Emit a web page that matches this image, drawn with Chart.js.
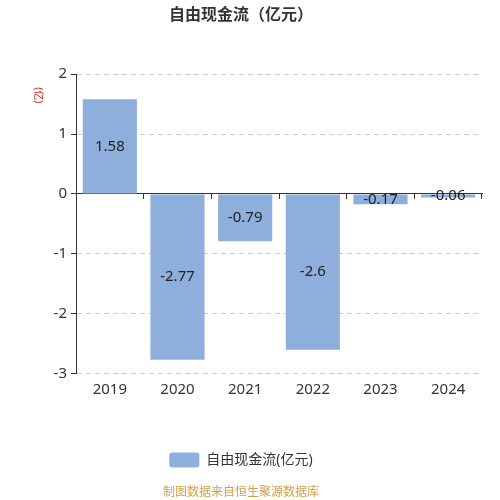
<!DOCTYPE html>
<html>
<head>
<meta charset="utf-8">
<script src="https://cdn.jsdelivr.net/npm/chart.js@4"></script>
<style>
  html, body { margin: 0; padding: 0; background: #fff; }
</style>
</head>
<body>
<canvas id="chart" width="500" height="500"></canvas>
<script>
var years = ['2019', '2020', '2021', '2022', '2023', '2024'];
var fcf = [1.58, -2.77, -0.79, -2.6, -0.17, -0.06];
var yTicks = [2, 1, 0, -1, -2, -3];

var FONT = '"Noto Sans", "Noto Sans CJK SC", sans-serif';

// value labels sit in the middle of each bar
var barLabels = {
  id: 'barLabels',
  afterDatasetsDraw: function(chart) {
    var ctx = chart.ctx;
    var meta = chart.getDatasetMeta(0);
    ctx.save();
    ctx.font = '15px ' + FONT;
    ctx.fillStyle = '#222';
    ctx.textAlign = 'center';
    ctx.textBaseline = 'middle';
    meta.data.forEach(function(bar, i) {
      var c = bar.getCenterPoint();
      ctx.fillText(String(fcf[i]), c.x, c.y);
    });
    ctx.restore();
  }
};

// small red unit text next to the y axis
var unitLabel = {
  id: 'unitLabel',
  afterDraw: function(chart) {
    var ctx = chart.ctx;
    var y = chart.scales.y;
    ctx.save();
    ctx.translate(38, y.getPixelForValue(1.65));
    ctx.rotate(Math.PI / 2);
    ctx.font = '10px ' + FONT;
    ctx.fillStyle = '#e02020';
    ctx.textAlign = 'center';
    ctx.textBaseline = 'middle';
    ctx.fillText('(亿)', 0, 0);
    ctx.restore();
  }
};

new Chart(document.getElementById('chart'), {
  type: 'bar',
  data: {
    labels: years,
    datasets: [{
      label: '自由现金流(亿元)',
      data: fcf,
      backgroundColor: '#8eaedc',
      barPercentage: 0.8,
      categoryPercentage: 1
    }]
  },
  options: {
    responsive: false,
    animation: false,
    layout: {padding: {left: 0, right: 18, top: 0, bottom: 0}},
    scales: {
      x: {
        type: 'category',
        offset: true,
        afterFit: function(scale) { scale.height = 69; },
        grid: {display: false, drawTicks: false},
        border: {display: false},
        ticks: {color: '#333', padding: 7, font: {size: 15, family: FONT}}
      },
      x2: {
        type: 'category',
        position: {y: 0},
        offset: true,
        labels: years,
        grid: {offset: true, drawOnChartArea: false, tickLength: 5, tickColor: '#333', color: '#333'},
        border: {color: '#333', width: 1},
        ticks: {display: false}
      },
      y: {
        min: -3,
        max: 2,
        afterBuildTicks: function(scale) {
          scale.ticks = yTicks.slice().reverse().map(function(v) { return {value: v}; });
        },
        afterFit: function(scale) { scale.width = 76; },
        grid: {color: '#cccccc', tickColor: '#333', tickLength: 5, tickBorderDash: []},
        border: {color: '#333', dash: [5, 4]},
        ticks: {color: '#333', padding: 4, font: {size: 15, family: FONT}}
      }
    },
    plugins: {
      title: {
        display: true,
        text: '自由现金流（亿元）',
        color: '#333',
        font: {size: 16, weight: 'bold', family: FONT},
        padding: {top: 6, bottom: 49}
      },
      subtitle: {
        display: true,
        position: 'bottom',
        text: '制图数据来自恒生聚源数据库',
        color: '#d4a04a',
        font: {size: 12, family: FONT},
        padding: {top: 8, bottom: 0}
      },
      legend: {
        position: 'bottom',
        labels: {
          color: '#333',
          boxWidth: 30,
          boxHeight: 15,
          useBorderRadius: true,
          borderRadius: 3,
          padding: 10,
          font: {size: 14, family: FONT}
        }
      },
      tooltip: {enabled: false}
    }
  },
  plugins: [barLabels, unitLabel]
});
</script>
</body>
</html>
